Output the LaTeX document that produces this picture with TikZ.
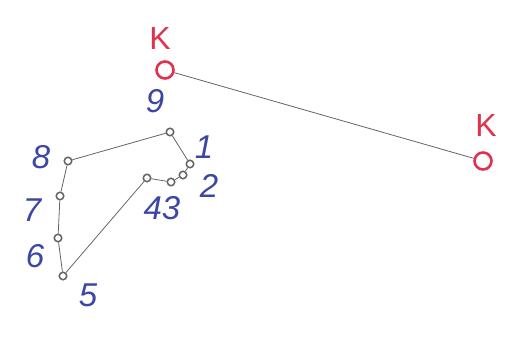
\documentclass[tikz,border=0pt]{standalone}
\usepackage{fontspec}
\setmainfont{Liberation Sans}
\definecolor{pen}{RGB}{60,70,165}
\definecolor{redpen}{RGB}{225,50,75}
\definecolor{pencil}{RGB}{100,100,100}
\begin{document}
\begin{tikzpicture}[x=1pt,y=-1pt,
  pt/.style={circle,draw=pencil,line width=1.5pt,inner sep=0pt,minimum size=7.5pt},
  kpt/.style={circle,draw=redpen,line width=2.6pt,inner sep=0pt,minimum size=17pt},
  lab/.style={text=pen,font=\fontsize{33}{33}\selectfont\itshape,inner sep=0pt},
  klab/.style={text=redpen,font=\fontsize{32}{32}\selectfont,inner sep=0pt},
  edge/.style={draw=pencil,line width=0.8pt}]
\useasboundingbox (0,0) rectangle (514,339);
\node[pt] (p9) at (170,132) {};
\node[pt] (p1) at (190,164) {};
\node[pt] (p2) at (183,175) {};
\node[pt] (p3) at (171,182) {};
\node[pt] (p4) at (147,178) {};
\node[pt] (p5) at (63,276) {};
\node[pt] (p6) at (58,238) {};
\node[pt] (p7) at (60,196) {};
\node[pt] (p8) at (68,161) {};
\node[kpt] (k1) at (165,70) {};
\node[kpt] (k2) at (483,161) {};
\draw[edge] (k1) -- (k2);
\draw[edge] (p9) -- (p1) -- (p2) -- (p3) -- (p4) -- (p5) -- (p6) -- (p7) -- (p8) -- (p9);
\node[klab] (lk1) at (160,38) {K};
\node[klab] (lk2) at (486,125) {K};
\node[lab] (l9) at (155,101) {9};
\node[lab] (l1) at (204,147) {1};
\node[lab] (l2) at (209,186) {2};
\node[lab] (l43) at (162,208) {43};
\node[lab] (l8) at (41,157) {8};
\node[lab] (l7) at (32,210) {7};
\node[lab] (l6) at (35,256) {6};
\node[lab] (l5) at (88,295) {5};
\end{tikzpicture}
\end{document}
